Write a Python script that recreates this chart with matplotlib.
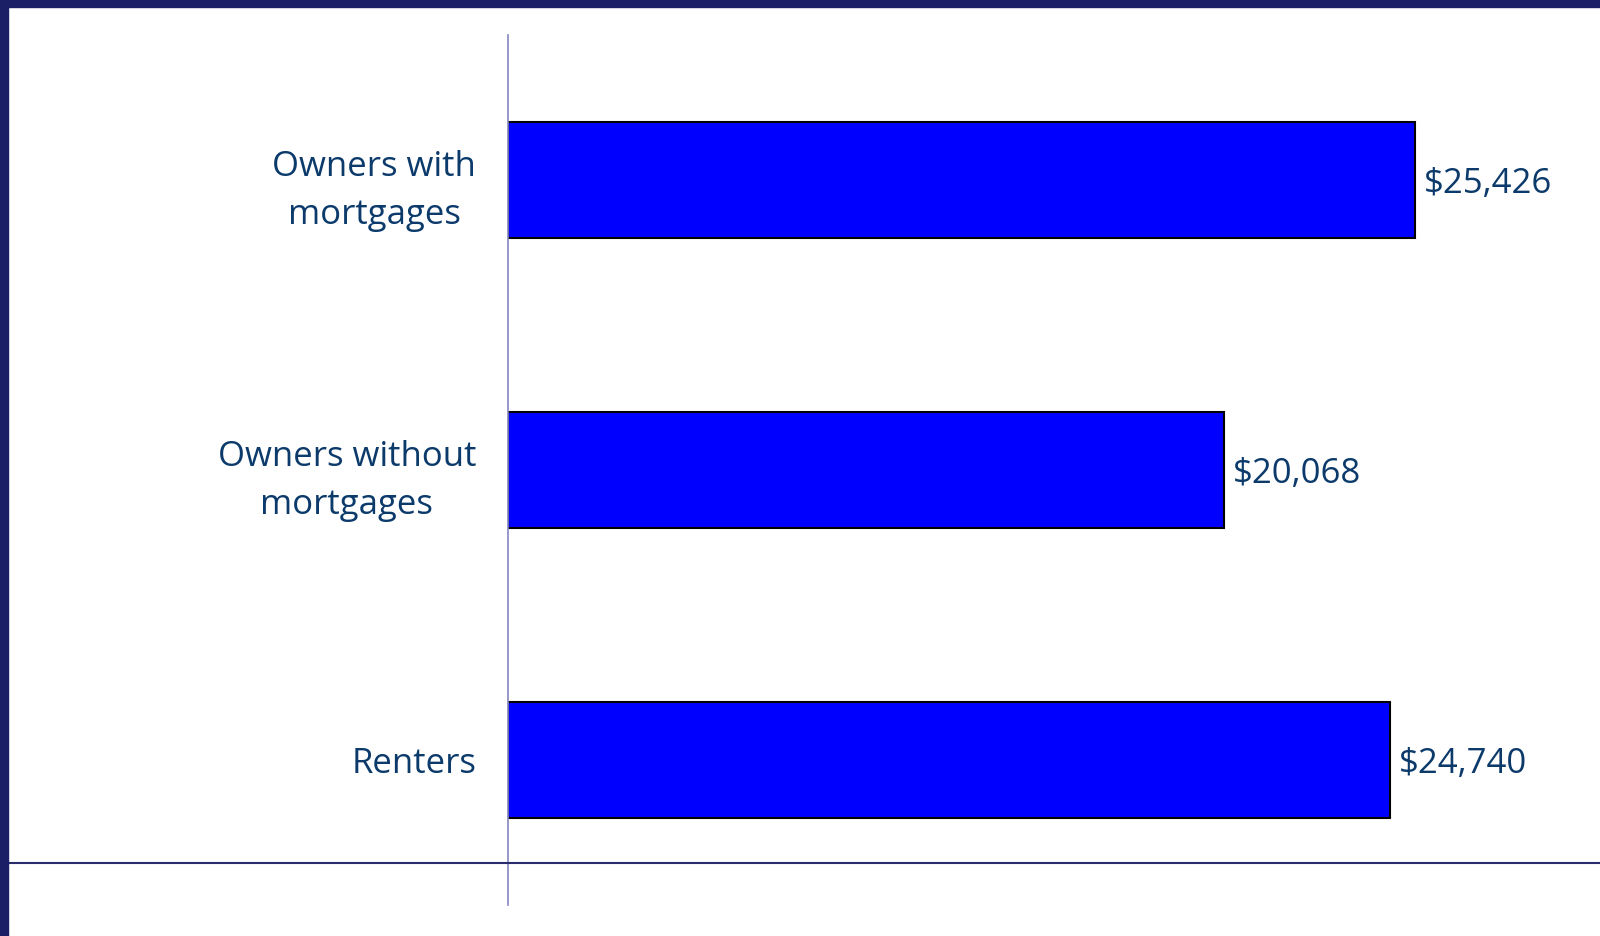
import matplotlib.pyplot as plt
from matplotlib.patches import Rectangle
from matplotlib.lines import Line2D

categories = ['Owners with\nmortgages', 'Owners without\nmortgages', 'Renters']
values = [25426, 20068, 24740]
value_labels = ['$25,426', '$20,068', '$24,740']

W, H = 1600, 936
TEXT_COLOR = '#0B3A6B'
NAVY = '#1B1F66'

plt.rcParams['font.family'] = ['Open Sans', 'DejaVu Sans']

fig = plt.figure(figsize=(W / 100, H / 100), dpi=100)
fig.patch.set_facecolor('white')

# plot area in pixel coords
left, right, top, bottom = 508, 1578, 35, 905
ax = fig.add_axes([left / W, 1 - bottom / H, (right - left) / W, (bottom - top) / H])

ypos = list(range(len(categories)))
ax.barh(ypos, values, height=0.4, color='#0000FF', edgecolor='black', linewidth=1.5)
ax.set_ylim(len(categories) - 0.5, -0.5)
ax.set_xlim(0, 30000)

for y, v, lab in zip(ypos, values, value_labels):
    ax.text(v + 250, y + 0.015, lab, va='center', ha='left', fontsize=25, color=TEXT_COLOR)

ax.set_yticks(ypos)
ax.set_yticklabels(categories, fontsize=25, color=TEXT_COLOR, multialignment='center',
                   linespacing=1.55)
ax.tick_params(axis='y', length=0, pad=23)
ax.set_xticks([])
for s in ['top', 'right', 'bottom']:
    ax.spines[s].set_visible(False)
ax.spines['left'].set_color('#8585C2')
ax.spines['left'].set_linewidth(1.2)

# slide decoration: borders and horizontal rule
fig.add_artist(Rectangle((0, 1 - 7 / H), 1, 7 / H, transform=fig.transFigure,
                         color=NAVY, zorder=10))
fig.add_artist(Rectangle((0, 0), 8 / W, 1, transform=fig.transFigure,
                         color=NAVY, zorder=10))
fig.add_artist(Line2D([8 / W, 1], [1 - 863 / H, 1 - 863 / H], transform=fig.transFigure,
                      color='#2A2C6E', linewidth=1.5, zorder=5))

plt.savefig('out.png', dpi=100)
